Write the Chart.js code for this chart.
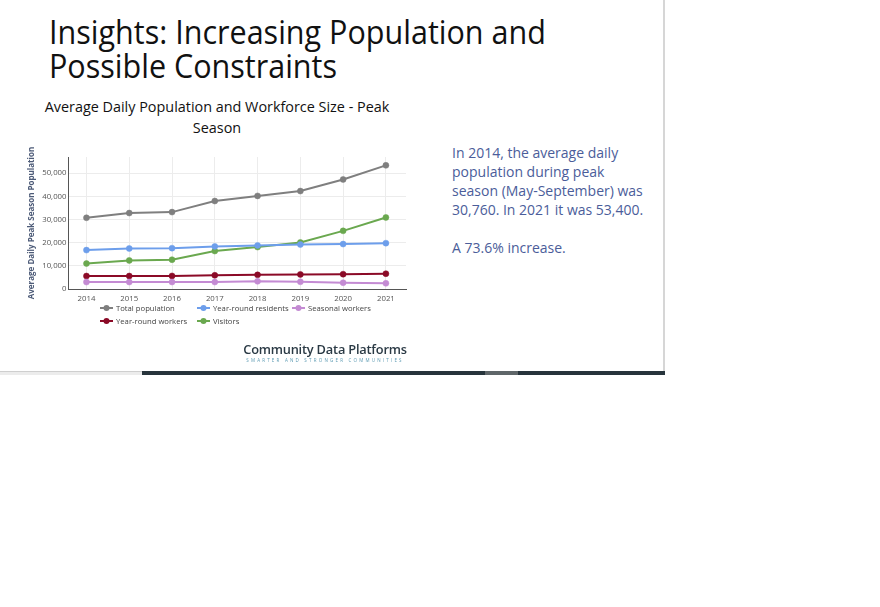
<!DOCTYPE html>
<html>
<head>
<meta charset="utf-8">
<script src="https://cdn.jsdelivr.net/npm/chart.js@4.4.1/dist/chart.umd.min.js"></script>
<style>
  html, body { margin: 0; padding: 0; background: #fff; width: 880px; height: 607px; overflow: hidden; }
  body { position: relative; font-family: 'Open Sans', sans-serif; }
  .slide { position: absolute; left: 0; top: 0; width: 663px; height: 371px; background: #fff; border-right: 2px solid #d6d6d6; }
  .title { position: absolute; left: 49px; height: 33px; overflow: visible; font-size: 33px; line-height: 33px; font-weight: 400; color: #111;
           transform: scaleX(0.925); transform-origin: left top; white-space: nowrap; }
  .subtitle { position: absolute; left: 20px; top: 96px; width: 394px; text-align: center; font-size: 14.4px; line-height: 21px; color: #111; }
  .note { position: absolute; left: 452px; top: 143px; font-size: 14px; line-height: 19px; color: #4b5d9a; }
  .logo { position: absolute; left: 243px; top: 341px; width: 164px; text-align: center; }
  .logo .name { font-size: 12.8px; font-weight: 600; color: #2b3a45; line-height: 16px; white-space: nowrap; letter-spacing: -0.2px; }
  .logo .tag { font-size: 4.5px; color: #5d9bb3; letter-spacing: 2.2px; line-height: 6px; white-space: nowrap; }
  .bar-left { position: absolute; left: 0; top: 371px; width: 142px; height: 3px; background: #ececec; border-top: 1px solid #cfcfcf; }
  .bar-dark { position: absolute; left: 142px; top: 371px; width: 523px; height: 4px; background: #27343c; }
  .bar-grey { position: absolute; left: 485px; top: 371px; width: 33px; height: 4px; background: #5f6669; }
  #chart-wrap { position: absolute; left: 15px; top: 135px; width: 400px; height: 170px; }
  #legend { position: absolute; left: 0; top: 0; font-size: 7.7px; color: #444; }
  #legend .item { position: absolute; white-space: nowrap; line-height: 10px; }
  #legend canvas { position: absolute; left: 0; top: 1px; }
  #legend span { position: absolute; top: 0; }
</style>
</head>
<body>
<div class="slide">
  <div class="title" style="top: 15px;">Insights: Increasing Population and</div>
  <div class="title" style="top: 49px;">Possible Constraints</div>
  <div class="subtitle">Average Daily Population and Workforce Size - Peak<br>Season</div>
  <div id="chart-wrap"><canvas id="main-chart" width="400" height="170"></canvas></div>
  <div id="legend"></div>
  <div class="note">In 2014, the average daily<br>population during peak<br>season (May-September) was<br>30,760. In 2021 it was 53,400.<br><br>A 73.6% increase.</div>
  <div class="logo">
    <div class="name">Community Data Platforms</div>
    <div class="tag">SMARTER AND STRONGER COMMUNITIES</div>
  </div>
</div>
<div class="bar-left"></div>
<div class="bar-dark"></div>
<div class="bar-grey"></div>

<script>
const years = [2014, 2015, 2016, 2017, 2018, 2019, 2020, 2021];
const totalPopulation = [30760, 32800, 33200, 38000, 40200, 42300, 47300, 53400];
const yearRoundResidents = [16800, 17500, 17650, 18400, 18800, 19200, 19400, 19800];
const seasonalWorkers = [3000, 3000, 3000, 3000, 3300, 3100, 2700, 2450];
const yearRoundWorkers = [5600, 5600, 5650, 5900, 6100, 6300, 6400, 6600];
const visitors = [11000, 12350, 12650, 16400, 18100, 20100, 25100, 30900];
const yTicks = [0, 10000, 20000, 30000, 40000, 50000];

const series = [
  { label: 'Total population', values: totalPopulation, color: '#7f7f7f' },
  { label: 'Year-round residents', values: yearRoundResidents, color: '#6d9eeb' },
  { label: 'Seasonal workers', values: seasonalWorkers, color: '#c48bd3' },
  { label: 'Year-round workers', values: yearRoundWorkers, color: '#8b0a27' },
  { label: 'Visitors', values: visitors, color: '#6aa84f' }
];

// little "line + dot" legend swatch, plotly style
const swatch = (color) => {
  const c = document.createElement('canvas');
  c.width = 13; c.height = 8;
  const g = c.getContext('2d');
  g.strokeStyle = color; g.lineWidth = 2;
  g.beginPath(); g.moveTo(0, 4); g.lineTo(13, 4); g.stroke();
  g.fillStyle = color;
  g.beginPath(); g.arc(6.5, 4, 3, 0, Math.PI * 2); g.fill();
  return c;
};

// legend laid out in plotly's grid: 3 on the first row, 2 on the second
const legendSlots = [[100, 303], [197, 303], [292, 303], [100, 315.5], [197, 315.5]];
const legendEl = document.getElementById('legend');
series.forEach((s, i) => {
  const it = document.createElement('div');
  it.className = 'item';
  it.style.left = legendSlots[i][0] + 'px';
  it.style.top = legendSlots[i][1] + 'px';
  it.appendChild(swatch(s.color));
  const t = document.createElement('span');
  t.style.left = '16px';
  t.textContent = s.label;
  it.appendChild(t);
  legendEl.appendChild(it);
});

const axisFont = { family: "'Open Sans', sans-serif", size: 7.8 };

new Chart(document.getElementById('main-chart'), {
  type: 'line',
  data: {
    datasets: series.map(s => ({
      label: s.label,
      data: years.map((yr, i) => ({ x: yr, y: s.values[i] })),
      borderColor: s.color,
      backgroundColor: s.color,
      pointBackgroundColor: s.color,
      pointBorderColor: s.color,
      pointStyle: 'circle',
      pointRadius: 3,
      pointBorderWidth: 0.5,
      borderWidth: 2,
      tension: 0
    }))
  },
  options: {
    responsive: false,
    animation: false,
    layout: { padding: { top: 22, right: 9, left: 0, bottom: 0 } },
    plugins: {
      tooltip: { enabled: false },
      legend: { display: false }
    },
    scales: {
      x: {
        type: 'linear',
        min: 2013.58,
        max: 2021.47,
        afterBuildTicks: (axis) => { axis.ticks = years.map(v => ({ value: v })); },
        afterFit: (axis) => { axis.height = 16; },
        grid: { color: '#ececec', lineWidth: 1, drawTicks: false },
        border: { color: '#555', width: 1 },
        ticks: { font: axisFont, color: '#555', padding: 5, callback: v => String(v) }
      },
      y: {
        min: 0,
        max: 57000,
        afterBuildTicks: (axis) => { axis.ticks = yTicks.map(v => ({ value: v })); },
        afterFit: (axis) => { axis.width = 53.5; },
        grid: { color: '#ececec', lineWidth: 1, drawTicks: false },
        border: { color: '#555', width: 1 },
        title: {
          display: true,
          text: 'Average Daily Peak Season Population',
          font: { family: "'Open Sans', sans-serif", size: 8, weight: 'bold' },
          color: '#4d5b78',
          padding: { top: 12, bottom: 0 }
        },
        ticks: {
          font: axisFont,
          color: '#555',
          padding: 2,
          callback: v => v === 0 ? '0' : v.toLocaleString('en-US')
        }
      }
    }
  }
});
</script>
</body>
</html>
